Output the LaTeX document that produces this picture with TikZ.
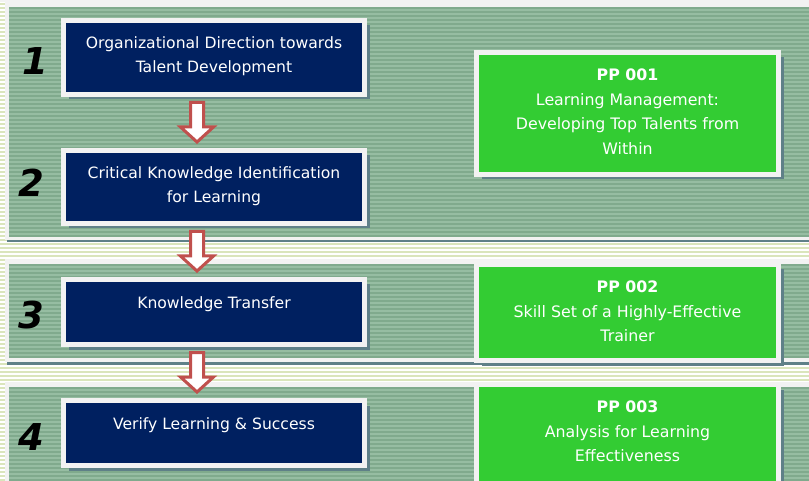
\documentclass[tikz,border=0pt]{standalone}
\usepackage{fontspec}
\setmainfont{DejaVu Sans}
\usetikzlibrary{calc,shadows}

\definecolor{navybox}{RGB}{0,32,96}
\definecolor{greenbox}{RGB}{51,204,51}
\definecolor{bandgreen}{RGB}{150,189,162}
\definecolor{bandstripe}{RGB}{128,170,141}
\definecolor{paleline}{RGB}{218,229,188}
\definecolor{framewhite}{RGB}{242,242,242}
\definecolor{shadowgrey}{RGB}{95,128,136}
\definecolor{arrowred}{RGB}{192,80,77}

\tikzset{
  stepbox/.style={draw=framewhite, line width=5, fill=navybox, minimum width=301, inner sep=0,
    drop shadow={shadow xshift=5pt, shadow yshift=-5pt, fill=shadowgrey, opacity=1}},
  ppbox/.style={stepbox, fill=greenbox, minimum width=302},
  boxtext/.style={anchor=north, inner sep=0, text=white, align=center, font=\fontsize{15.6}{24}\selectfont},
  pptext/.style={boxtext, font=\fontsize{15.8}{24.7}\selectfont},
  stepnum/.style={font=\fontsize{37}{37}\selectfont\bfseries\itshape},
  flowarr/.style={draw=arrowred, fill=white, line width=3, line join=miter},
}

% block arrow from one step box down to the next
\newcommand{\flowarrow}[2]{%
  \coordinate (#1top) at ($(#1.south)+(-17,5.5)$);
  \coordinate (#1tip) at ($(#2.north)+(-17,-6)$);
  \draw[flowarr] ($(#1top)+(-6.5,0)$) -- ($(#1top)+(6.5,0)$) -- ($(#1tip)+(6.5,-15)$)
    -- ($(#1tip)+(16.5,-15)$) -- (#1tip) -- ($(#1tip)+(-16.5,-15)$) -- ($(#1tip)+(-6.5,-15)$) -- cycle;
}

\begin{document}
\begin{tikzpicture}[x=1pt,y=1pt,yscale=-1,xscale=1]
\useasboundingbox (0,0) rectangle (809,481);
\clip (0,0) rectangle (809,481);

%Background stripes
\fill[white] (0,0) rectangle (809,481);
\foreach \y in {4,8,...,481} \draw[paleline, line width=2] (0,\y) -- (809,\y);
\fill[framewhite] (0,0) rectangle (809,2);

%Bands
\foreach \ytop/\ybot in {2/240, 259/362, 382/490} {
  \pgfmathsetmacro{\ya}{\ytop+6}
  \pgfmathsetmacro{\yb}{\ytop+10}
  \pgfmathsetmacro{\yc}{\ybot-4}
  \fill[shadowgrey] (7,\ybot) rectangle (809,\ybot+2.5);
  \fill[framewhite] (5,\ytop) rectangle (809,\ybot);
  \fill[bandgreen] (9,\ytop+5) rectangle (809,\ybot-4);
  \foreach \y in {\ya,\yb,...,\yc} \draw[bandstripe, line width=1.6] (9,\y) -- (809,\y);
}

%Step boxes
\node[stepbox, minimum height=74] (b1) at (214,57.5) {};
\node[stepbox, minimum height=73] (b2) at (214,187) {};
\node[stepbox, minimum height=65] (b3) at (214,312) {};
\node[stepbox, minimum height=65] (b4) at (214,433) {};

%Programme boxes
\node[ppbox, minimum height=122] (p1) at (627.5,113.5) {};
\node[ppbox, minimum height=96] (p2) at (627.5,312.5) {};
\node[ppbox, minimum height=103] (p3) at (627.5,436) {};

% Text Node
\node[boxtext] (t1) at ($(b1.north)+(0,18)$) {Organizational Direction towards\\Talent Development};
% Text Node
\node[boxtext] (t2) at ($(b2.north)+(0,18)$) {Critical Knowledge Identification\\for Learning};
% Text Node
\node[boxtext] (t3) at ($(b3.north)+(0,19)$) {Knowledge Transfer};
% Text Node
\node[boxtext] (t4) at ($(b4.north)+(0,19)$) {Verify Learning \& Success};

% Text Node
\node[pptext] (q1) at ($(p1.north)+(0,18.5)$) {\textbf{PP 001}\\Learning Management:\\Developing Top Talents from\\Within};
% Text Node
\node[pptext] (q2) at ($(p2.north)+(0,18.5)$) {\textbf{PP 002}\\Skill Set of a Highly-Effective\\Trainer};
% Text Node
\node[pptext] (q3) at ($(p3.north)+(0,18.5)$) {\textbf{PP 003}\\Analysis for Learning\\Effectiveness};

%Step numbers
\node[stepnum] (n1) at (35,61) {1};
\node[stepnum] (n2) at (31,183) {2};
\node[stepnum] (n3) at (31,315) {3};
\node[stepnum] (n4) at (31,437) {4};

%Arrows
\flowarrow{b1}{b2}
\flowarrow{b2}{b3}
\flowarrow{b3}{b4}

\end{tikzpicture}
\end{document}
